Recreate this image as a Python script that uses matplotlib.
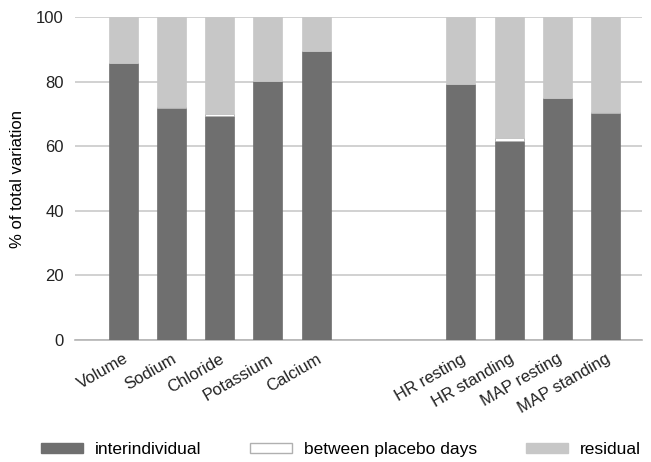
import numpy as np
import matplotlib.pyplot as plt
from matplotlib.patches import Patch

plt.rcParams["font.family"] = ["Liberation Sans", "DejaVu Sans"]

# data
categories = ["Volume", "Sodium", "Chloride", "Potassium", "Calcium",
              "", "",
              "HR resting", "HR standing", "MAP resting", "MAP standing"]
interindividual = [85.7, 71.9, 69.3, 80.3, 89.5, 0, 0, 79.3, 61.5, 75.1, 70.2]
between_days = [0.0, 0.3, 0.8, 0.0, 0.0, 0, 0, 0.0, 1.2, 0.0, 0.3]
residual = [14.3, 27.8, 29.9, 19.7, 10.5, 0, 0, 20.7, 37.3, 24.9, 29.5]

dark = "#6f6f6f"
light = "#c7c7c7"
grid_c = "#c9c9c9"

fig = plt.figure(figsize=(6.51, 4.62), dpi=100)
ax = fig.add_axes([0.115, 0.264, 0.871, 0.699])

x = np.arange(len(categories))
keep = np.array([c != "" for c in categories])
inter = np.array(interindividual)
betw = np.array(between_days)
resid = np.array(residual)

w = 0.6
ax.bar(x[keep], inter[keep], w, color=dark, edgecolor=dark, linewidth=0.5, zorder=3)
ax.bar(x[keep], betw[keep], w, bottom=inter[keep], color="white",
       edgecolor="#b0b0b0", linewidth=0.6, zorder=3)
ax.bar(x[keep], resid[keep], w, bottom=inter[keep] + betw[keep], color=light,
       edgecolor=light, linewidth=0.5, zorder=3)

ax.set_ylim(0, 100)
ax.set_xlim(-1.0, 10.75)
ax.set_yticks(np.arange(0, 101, 20))
ax.yaxis.grid(True, color=grid_c, linewidth=1.2, zorder=0)
ax.set_axisbelow(True)
for s in ["top", "right", "left"]:
    ax.spines[s].set_visible(False)
ax.spines["bottom"].set_color("#b5b5b5")
ax.spines["bottom"].set_linewidth(1.2)
ax.tick_params(axis="both", length=0, labelsize=12, colors="#222222")
ax.tick_params(axis="y", pad=8)
ax.set_xticks(x[keep])
ax.set_xticklabels([c for c in categories if c], rotation=30, ha="right",
                   rotation_mode="anchor", fontsize=12)
ax.tick_params(axis="x", pad=8)
ax.set_ylabel("% of total variation", fontsize=12, labelpad=8)

handles = [Patch(facecolor=dark, edgecolor=dark, label="interindividual"),
           Patch(facecolor="white", edgecolor="#b0b0b0", label="between placebo days"),
           Patch(facecolor=light, edgecolor=light, label="residual")]
fig.legend(handles=handles, loc="center", bbox_to_anchor=(0.524, 0.026),
           ncol=3, frameon=False, fontsize=12.5, handlelength=2.4, handleheight=0.5,
           columnspacing=2.8, handletextpad=0.7, borderpad=0, borderaxespad=0)

fig.savefig("out.png", dpi=100)
